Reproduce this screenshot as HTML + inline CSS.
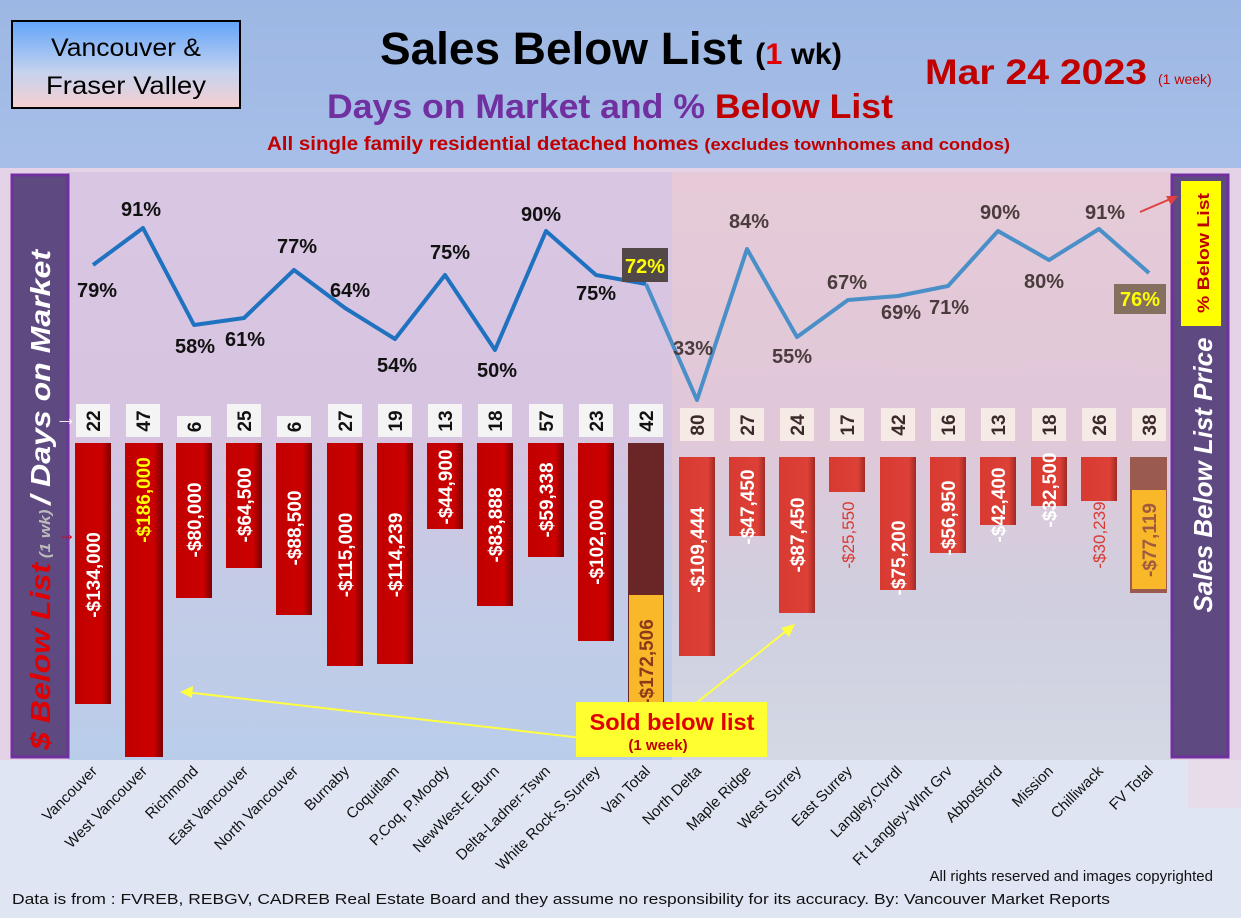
<!DOCTYPE html>
<html><head><meta charset="utf-8">
<style>
body{margin:0;width:1241px;height:918px;overflow:hidden;background:#dfe5f3;}
svg{display:block;font-family:"Liberation Sans",sans-serif;}
</style></head><body>
<svg width="1241" height="918" viewBox="0 0 1241 918" xmlns="http://www.w3.org/2000/svg">
<defs>
<linearGradient id="hdr" x1="0" y1="0" x2="0" y2="1"><stop offset="0" stop-color="#9db7e4"/><stop offset="1" stop-color="#a7bfe8"/></linearGradient>
<linearGradient id="box" x1="0" y1="0" x2="0" y2="1"><stop offset="0" stop-color="#62a4fa"/><stop offset="0.6" stop-color="#c7d3ee"/><stop offset="1" stop-color="#f6cfd0"/></linearGradient>
<linearGradient id="pl" x1="0" y1="0" x2="0" y2="1"><stop offset="0" stop-color="#d9c6e2"/><stop offset="0.45" stop-color="#d6c4e0"/><stop offset="0.7" stop-color="#c4cbe6"/><stop offset="1" stop-color="#b9cdea"/></linearGradient>
<linearGradient id="pr" x1="0" y1="0" x2="0" y2="1"><stop offset="0" stop-color="#e6cad8"/><stop offset="0.45" stop-color="#e0c8d8"/><stop offset="0.75" stop-color="#cfcfe0"/><stop offset="1" stop-color="#d4d8e4"/></linearGradient>
<linearGradient id="rb" x1="0" y1="0" x2="1" y2="0"><stop offset="0" stop-color="#c00000"/><stop offset="0.75" stop-color="#cc0000"/><stop offset="1" stop-color="#7a0000"/></linearGradient>
<linearGradient id="rb2" x1="0" y1="0" x2="1" y2="0"><stop offset="0" stop-color="#d83a32"/><stop offset="0.8" stop-color="#dc4036"/><stop offset="1" stop-color="#a02a26"/></linearGradient>
</defs>
<rect width="1241" height="918" fill="#dfe5f3"/>
<rect width="1241" height="168" fill="url(#hdr)"/>
<rect x="0" y="168" width="1241" height="592" fill="#e4d2e6"/>
<rect x="1188" y="760" width="53" height="48" fill="#e6dcea"/>
<!-- header -->
<rect x="12" y="21" width="228" height="87" fill="url(#box)" stroke="#000" stroke-width="2"/>
<text x="126" y="56" font-size="25" text-anchor="middle" textLength="150" lengthAdjust="spacingAndGlyphs">Vancouver &amp;</text>
<text x="126" y="94" font-size="25" text-anchor="middle" textLength="160" lengthAdjust="spacingAndGlyphs">Fraser Valley</text>
<text x="380" y="64" font-size="45" font-weight="bold" textLength="462" lengthAdjust="spacingAndGlyphs">Sales Below List <tspan font-size="30">(<tspan fill="#e00000">1</tspan> wk)</tspan></text>
<text x="925" y="84" font-size="35" font-weight="bold" fill="#c00000" textLength="222" lengthAdjust="spacingAndGlyphs">Mar 24  2023</text>
<text x="1158" y="84" font-size="14" fill="#c00000">(1 week)</text>
<text x="327" y="118" font-size="34" font-weight="bold" fill="#7030a0" textLength="566" lengthAdjust="spacingAndGlyphs">Days on Market and % <tspan fill="#c00000">Below List</tspan></text>
<text x="267" y="150" font-size="19" font-weight="bold" fill="#c00000" textLength="743" lengthAdjust="spacingAndGlyphs">All single family residential detached homes <tspan font-size="17">(excludes townhomes and condos)</tspan></text>
<!-- plot area -->
<rect x="68" y="172" width="604" height="588" fill="url(#pl)"/>
<rect x="672" y="172" width="500" height="588" fill="url(#pr)"/>
<!-- side panels -->
<rect x="12" y="175" width="56" height="582" fill="#5e4a80" stroke="#7030a0" stroke-width="3"/>
<rect x="1172" y="175" width="56" height="582" fill="#5e4a80" stroke="#7030a0" stroke-width="3"/>
<rect x="1181" y="181" width="40" height="145" fill="#ffff00"/>
<text transform="translate(1209,253) rotate(-90)" font-size="17" font-weight="bold" fill="#c00000" text-anchor="middle" textLength="120" lengthAdjust="spacingAndGlyphs">% Below List</text>
<text transform="translate(1212,475) rotate(-90)" font-size="26" font-weight="bold" font-style="italic" fill="#fff" text-anchor="middle" textLength="275" lengthAdjust="spacingAndGlyphs">Sales  Below List Price</text>
<text transform="translate(50,750) rotate(-90)" font-size="28" font-weight="bold" font-style="italic" fill="#fff" textLength="500" lengthAdjust="spacingAndGlyphs"><tspan fill="#e00000">$ Below List</tspan><tspan font-size="15" fill="#bbb"> (1 wk) </tspan>/ Days on Market</text>
<text x="55" y="425" font-size="22" fill="#fff" font-weight="bold">→</text>
<text x="58" y="540" font-size="18" fill="#e00000" font-weight="bold">→</text>
<!-- DOM boxes -->
<g fill="#f4f4f4">
<rect x="76" y="404" width="34" height="33"/><rect x="126" y="404" width="34" height="33"/><rect x="177" y="416" width="34" height="21"/><rect x="227" y="404" width="34" height="33"/><rect x="277" y="416" width="34" height="21"/><rect x="328" y="404" width="34" height="33"/><rect x="378" y="404" width="34" height="33"/><rect x="428" y="404" width="34" height="33"/><rect x="478" y="404" width="34" height="33"/><rect x="529" y="404" width="34" height="33"/><rect x="579" y="404" width="34" height="33"/><rect x="629" y="404" width="34" height="33"/>
</g>
<g fill="#f6ebe4">
<rect x="680" y="408" width="34" height="33"/><rect x="730" y="408" width="34" height="33"/><rect x="780" y="408" width="34" height="33"/><rect x="830" y="408" width="34" height="33"/><rect x="881" y="408" width="34" height="33"/><rect x="931" y="408" width="34" height="33"/><rect x="981" y="408" width="34" height="33"/><rect x="1032" y="408" width="34" height="33"/><rect x="1082" y="408" width="34" height="33"/><rect x="1132" y="408" width="34" height="33"/>
</g>
<g font-size="19" font-weight="bold" fill="#111" text-anchor="middle">
<text transform="translate(100,421) rotate(-90)">22</text><text transform="translate(150,421) rotate(-90)">47</text><text transform="translate(201,427) rotate(-90)">6</text><text transform="translate(251,421) rotate(-90)">25</text><text transform="translate(301,427) rotate(-90)">6</text><text transform="translate(352,421) rotate(-90)">27</text><text transform="translate(402,421) rotate(-90)">19</text><text transform="translate(452,421) rotate(-90)">13</text><text transform="translate(502,421) rotate(-90)">18</text><text transform="translate(553,421) rotate(-90)">57</text><text transform="translate(603,421) rotate(-90)">23</text><text transform="translate(653,421) rotate(-90)">42</text>
</g>
<g font-size="19" font-weight="bold" fill="#3a2a2a" text-anchor="middle">
<text transform="translate(704,425) rotate(-90)">80</text><text transform="translate(754,425) rotate(-90)">27</text><text transform="translate(804,425) rotate(-90)">24</text><text transform="translate(854,425) rotate(-90)">17</text><text transform="translate(905,425) rotate(-90)">42</text><text transform="translate(955,425) rotate(-90)">16</text><text transform="translate(1005,425) rotate(-90)">13</text><text transform="translate(1056,425) rotate(-90)">18</text><text transform="translate(1106,425) rotate(-90)">26</text><text transform="translate(1156,425) rotate(-90)">38</text>
</g>
<!-- bars -->
<g fill="url(#rb)">
<rect x="75" y="443" width="36" height="261"/><rect x="125" y="443" width="38" height="314"/><rect x="176" y="443" width="36" height="155"/><rect x="226" y="443" width="36" height="125"/><rect x="276" y="443" width="36" height="172"/><rect x="327" y="443" width="36" height="223"/><rect x="377" y="443" width="36" height="221"/><rect x="427" y="443" width="36" height="86"/><rect x="477" y="443" width="36" height="163"/><rect x="528" y="443" width="36" height="114"/><rect x="578" y="443" width="36" height="198"/>
</g>
<rect x="628" y="443" width="36" height="314" fill="#6a2626"/>
<rect x="629" y="595" width="34" height="135" fill="#f8b82a"/>
<g fill="url(#rb2)">
<rect x="679" y="457" width="36" height="199"/><rect x="729" y="457" width="36" height="79"/><rect x="779" y="457" width="36" height="156"/><rect x="829" y="457" width="36" height="35"/><rect x="880" y="457" width="36" height="133"/><rect x="930" y="457" width="36" height="96"/><rect x="980" y="457" width="36" height="68"/><rect x="1031" y="457" width="36" height="49"/><rect x="1081" y="457" width="36" height="44"/>
</g>
<rect x="1130" y="457" width="37" height="136" fill="#9a5a50"/>
<rect x="1132" y="490" width="34" height="99" fill="#f8b82a"/>
<!-- bar labels -->
<g font-size="19" font-weight="bold" fill="#fff" text-anchor="middle">
<text transform="translate(100,575) rotate(-90)">-$134,000</text>
<text transform="translate(150,500) rotate(-90)" fill="#ffff00">-$186,000</text>
<text transform="translate(201,520) rotate(-90)">-$80,000</text>
<text transform="translate(251,505) rotate(-90)">-$64,500</text>
<text transform="translate(301,528) rotate(-90)">-$88,500</text>
<text transform="translate(352,555) rotate(-90)">-$115,000</text>
<text transform="translate(402,555) rotate(-90)">-$114,239</text>
<text transform="translate(452,487) rotate(-90)">-$44,900</text>
<text transform="translate(502,525) rotate(-90)">-$83,888</text>
<text transform="translate(553,500) rotate(-90)">-$59,338</text>
<text transform="translate(603,542) rotate(-90)">-$102,000</text>
<text transform="translate(653,662) rotate(-90)" fill="#8a3a1a">-$172,506</text>
<text transform="translate(704,550) rotate(-90)">-$109,444</text>
<text transform="translate(754,507) rotate(-90)">-$47,450</text>
<text transform="translate(804,535) rotate(-90)">-$87,450</text>
<text transform="translate(905,558) rotate(-90)">-$75,200</text>
<text transform="translate(955,518) rotate(-90)">-$56,950</text>
<text transform="translate(1005,505) rotate(-90)">-$42,400</text>
<text transform="translate(1056,490) rotate(-90)">-$32,500</text>
<text transform="translate(1156,540) rotate(-90)" fill="#a05a40">-$77,119</text>
</g>
<g font-size="17" fill="#d83a32" text-anchor="middle">
<text transform="translate(854,535) rotate(-90)">-$25,550</text>
<text transform="translate(1105,535) rotate(-90)">-$30,239</text>
</g>
<!-- line -->
<polyline fill="none" stroke="#1f72c0" stroke-width="4" stroke-linejoin="round" points="93,265 143,228 194,325 244,318 294,270 345,308 395,339 445,275 495,350 546,231 596,275 646,284"/>
<polyline fill="none" stroke="#4a8fc8" stroke-width="4" stroke-linejoin="round" points="646,284 697,400 747,249 797,337 848,300 898,296 948,286 998,231 1049,260 1099,229 1149,273"/>
<g font-size="20" font-weight="bold" fill="#111" text-anchor="middle">
<text x="97" y="297">79%</text><text x="141" y="216">91%</text><text x="195" y="353">58%</text><text x="245" y="346">61%</text><text x="297" y="253">77%</text><text x="350" y="297">64%</text><text x="397" y="372">54%</text><text x="450" y="259">75%</text><text x="497" y="377">50%</text><text x="541" y="221">90%</text><text x="596" y="300">75%</text>
</g>
<rect x="622" y="248" width="46" height="34" fill="#534848"/>
<text x="645" y="273" font-size="20" font-weight="bold" fill="#ffff00" text-anchor="middle">72%</text>
<g font-size="20" font-weight="bold" fill="#4a3c3c" text-anchor="middle">
<text x="693" y="355">33%</text><text x="749" y="228">84%</text><text x="792" y="363">55%</text><text x="847" y="289">67%</text><text x="901" y="319">69%</text><text x="949" y="314">71%</text><text x="1000" y="219">90%</text><text x="1044" y="288">80%</text><text x="1105" y="219">91%</text>
</g>
<rect x="1114" y="284" width="52" height="30" fill="#857060"/>
<text x="1140" y="306" font-size="20" font-weight="bold" fill="#ffff00" text-anchor="middle">76%</text>
<line x1="1140" y1="212" x2="1175" y2="197" stroke="#e04040" stroke-width="2"/>
<polygon points="1178,196 1166,196 1171,205" fill="#e04040"/>
<!-- annotation -->
<line x1="582" y1="738" x2="185" y2="692" stroke="#ffff40" stroke-width="2"/>
<polygon points="180,692 193,686 192,698" fill="#ffff40"/>
<line x1="690" y1="708" x2="790" y2="628" stroke="#ffff40" stroke-width="2"/>
<polygon points="795,624 781,628 789,637" fill="#ffff40"/>
<rect x="576" y="702" width="191" height="55" fill="#ffff30"/>
<text x="672" y="730" font-size="23" font-weight="bold" fill="#e00000" text-anchor="middle" textLength="165" lengthAdjust="spacingAndGlyphs">Sold below list</text>
<text x="658" y="750" font-size="15" font-weight="bold" fill="#c00000" text-anchor="middle">(1 week)</text>
<!-- x labels -->
<g font-size="15" fill="#111" text-anchor="end">
<text transform="translate(98,772) rotate(-45)">Vancouver</text>
<text transform="translate(148,772) rotate(-45)">West Vancouver</text>
<text transform="translate(199,772) rotate(-45)">Richmond</text>
<text transform="translate(249,772) rotate(-45)">East Vancouver</text>
<text transform="translate(299,772) rotate(-45)">North Vancouver</text>
<text transform="translate(350,772) rotate(-45)">Burnaby</text>
<text transform="translate(400,772) rotate(-45)">Coquitlam</text>
<text transform="translate(450,772) rotate(-45)">P.Coq, P.Moody</text>
<text transform="translate(500,772) rotate(-45)">NewWest-E.Burn</text>
<text transform="translate(551,772) rotate(-45)">Delta-Ladner-Tswn</text>
<text transform="translate(601,772) rotate(-45)">White Rock-S.Surrey</text>
<text transform="translate(651,772) rotate(-45)">Van Total</text>
<text transform="translate(702,772) rotate(-45)">North Delta</text>
<text transform="translate(752,772) rotate(-45)">Maple Ridge</text>
<text transform="translate(802,772) rotate(-45)">West Surrey</text>
<text transform="translate(853,772) rotate(-45)">East Surrey</text>
<text transform="translate(903,772) rotate(-45)">Langley,Clvrdl</text>
<text transform="translate(953,772) rotate(-45)">Ft Langley-Wlnt Grv</text>
<text transform="translate(1003,772) rotate(-45)">Abbotsford</text>
<text transform="translate(1054,772) rotate(-45)">Mission</text>
<text transform="translate(1104,772) rotate(-45)">Chilliwack</text>
<text transform="translate(1154,772) rotate(-45)">FV Total</text>
</g>
<text x="1213" y="881" font-size="15" fill="#111" text-anchor="end">All rights reserved and  images copyrighted</text>
<text x="12" y="904" font-size="15" fill="#111" textLength="1098" lengthAdjust="spacingAndGlyphs">Data is from : FVREB, REBGV, CADREB Real Estate Board and they assume no responsibility for its accuracy. By: Vancouver Market Reports</text>
</svg>
</body></html>
